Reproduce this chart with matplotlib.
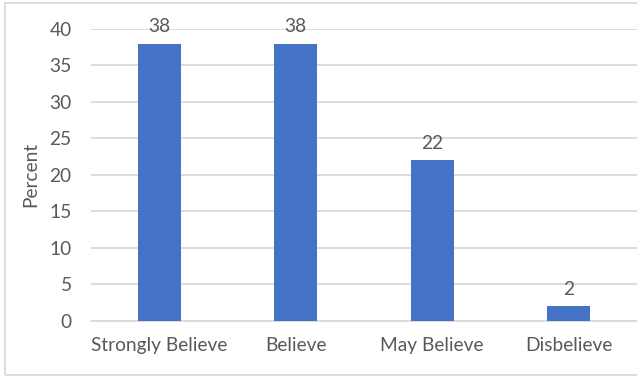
import matplotlib.pyplot as plt
from matplotlib.patches import Rectangle

categories = ["Strongly Believe", "Believe", "May Believe", "Disbelieve"]
percent = [38, 38, 22, 2]

plt.rcParams["font.family"] = ["Lato", "DejaVu Sans"]
text_color = "#595959"
grid_color = "#d9d9d9"
fs = 13.8

fig = plt.figure(figsize=(6.37, 3.76), dpi=100)
ax = fig.add_axes([0.1429, 0.147, 0.857, 0.776])

x = range(len(categories))
bars = ax.bar(x, percent, width=0.314, color="#4472C4", zorder=3)
for b, v in zip(bars, percent):
    ax.annotate(str(v), (b.get_x() + b.get_width() / 2, v), xytext=(0, 6),
                textcoords="offset points", ha="center", va="bottom",
                fontsize=fs, color=text_color)

ax.set_xlim(-0.5, len(categories) - 0.5)
ax.set_ylim(0, 40)
ax.set_yticks(range(0, 41, 5))
ax.set_xticks(list(x))
ax.set_xticklabels(categories)
ax.tick_params(axis="both", length=0, labelsize=fs, labelcolor=text_color)
ax.tick_params(axis="x", pad=12)
ax.tick_params(axis="y", pad=14)
ax.grid(axis="y", color=grid_color, linewidth=1.3, zorder=0)
for s in ["top", "right", "left"]:
    ax.spines[s].set_visible(False)
ax.spines["bottom"].set_color(grid_color)
ax.spines["bottom"].set_linewidth(1.3)
ax.set_ylabel("Percent", fontsize=fs, color=text_color, labelpad=7)

# chart border
fig.patches.append(Rectangle((5 / 637, 1 / 376), 1.0, 372 / 376, transform=fig.transFigure,
                             fill=False, edgecolor=grid_color, linewidth=1.3))

fig.savefig("out.png", dpi=100)
